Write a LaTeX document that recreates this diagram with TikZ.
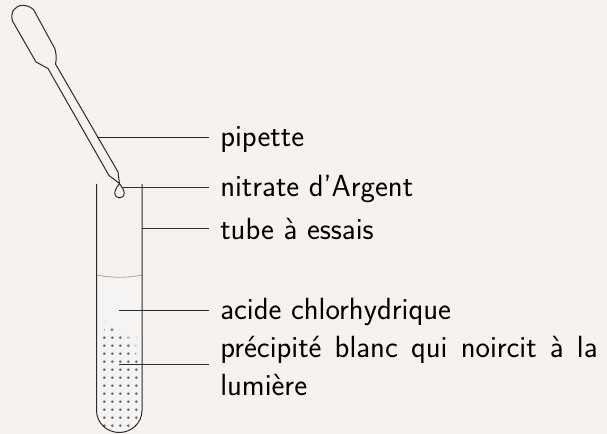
\documentclass[tikz,border=0pt]{standalone}
\usepackage{xcolor}
\usetikzlibrary{positioning, calc}
\definecolor{paper}{HTML}{F7F2EE}
\definecolor{liquid}{HTML}{F6F3F3}
\definecolor{ink}{HTML}{2B2B2B}
\definecolor{speck}{HTML}{77777B}
\begin{document}
\begin{tikzpicture}[
  x=0.75pt, y=-0.75pt,
  label/.style={anchor=base west, inner sep=0pt, font=\sffamily\fontsize{23}{28.2}\selectfont},
  lead/.style={ink, line width=0.75pt},
  glass/.style={ink, line width=0.75pt, line join=round}
]
  \useasboundingbox[fill=paper] (0,0) rectangle (607,434);

  % liquid and precipitate
  \fill[liquid] (96.5,275) .. controls (112,278) and (127,278) .. (142,275) -- (142,410.5) arc[start angle=0, end angle=180, x radius=22.75, y radius=22] -- cycle;
  \draw[gray!70, line width=0.6pt] (96.5,275) .. controls (112,278) and (127,278) .. (142,275);
  \begin{scope}
    \clip (96.5,275) -- (142,275) -- (142,410.5) arc[start angle=0, end angle=180, x radius=22.75, y radius=22] -- cycle;
    \foreach \row in {0,...,12}
      \foreach \col in {0,...,4}
        \fill[speck] ({104.3+8*\col},{337.7+8*\row}) circle[radius=1.6];
    \foreach \px/\py/\pr in {105/321.7/0.4, 104.5/329.7/0.6, 112/329.7/1.6, 120/329.7/0.4}
      \fill[speck] (\px,\py) circle[radius=\pr];
    \foreach \px/\py in {128/337.7, 136/337.7, 136/345.7, 136/353.7}
      \fill[liquid] (\px,\py) circle[radius=1.8];
    \foreach \px/\py/\pr in {128/337.7/0.8, 135/345.7/0.5, 135.5/353.7/0.7}
      \fill[speck] (\px,\py) circle[radius=\pr];
  \end{scope}

  % tube
  \draw[glass] (96.5,184) -- (96.5,410.5) arc[start angle=180, end angle=0, x radius=22.75, y radius=22] -- (142,184);

  % pipette
  \draw[glass] (33.5,9.5) .. controls (29,6) and (26,5.3) .. (23,5.3)
    .. controls (15,5.3) and (10,12) .. (12.5,21)
    -- (36,62) -- (48,68.5) -- (109,175.5) -- (119.5,183.5) -- (118,172) -- (55.5,64)
    .. controls (57,58) and (56,54) .. (55,49) -- cycle;
  \draw[glass] (119.5,183.5) .. controls (117,187) and (114.8,190) .. (114.8,193)
    .. controls (114.8,199.5) and (124.2,199.5) .. (124.2,193)
    .. controls (124.2,190) and (121.5,187) .. (119.5,183.5);

  % labels
  \node[label] (pipette) at (220,146.5) {pipette};
  \node[label] (nitrate) at (220,197) {nitrate d'Argent};
  \node[label] (tube) at (220,240) {tube à essais};
  \node[label] (acide) at (220,319.2) {acide chlorhydrique};
  \node[label, text width=283pt, align=justify] (precip) at (220,357.8) {précipité blanc qui noircit à la lumière};

  \coordinate (pipetteEnd) at (97,138);
  \coordinate (nitrateEnd) at (122,188);
  \coordinate (tubeEnd) at (142,229);
  \coordinate (acideEnd) at (119,310.5);
  \coordinate (precipEnd) at (119,365);
  \draw[lead] (pipetteEnd) -- (209,138);
  \draw[lead] (nitrateEnd) -- (209,188);
  \draw[lead] (tubeEnd) -- (209,229);
  \draw[lead] (acideEnd) -- (209,310.5);
  \draw[lead] (precipEnd) -- (209,365);
\end{tikzpicture}
\end{document}
